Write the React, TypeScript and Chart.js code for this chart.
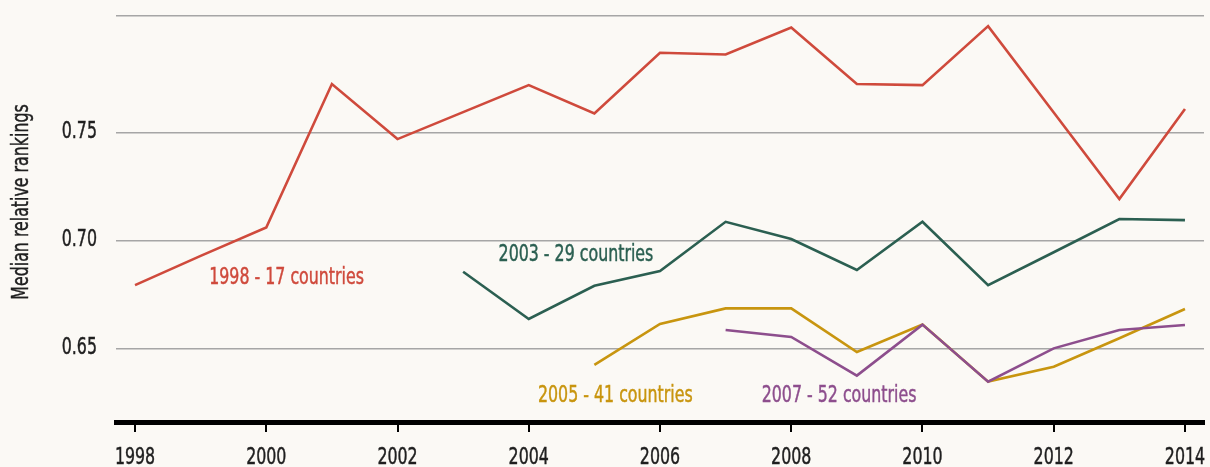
import React, { useEffect, useRef } from "react";
import { Chart, registerables } from "chart.js";

Chart.register(...registerables);

const years = [1998, 1999, 2000, 2001, 2002, 2003, 2004, 2005, 2006, 2007, 2008, 2009, 2010, 2011, 2012, 2013, 2014];

const red1998 = [0.6796, 0.6931, 0.7063, 0.7727, 0.7472, 0.7597, 0.7722, 0.7591, 0.7872, 0.7864, 0.7989, 0.7727, 0.7722, 0.7995, 0.7595, 0.7194, 0.7611];
const green2003 = [null, null, null, null, null, 0.6858, 0.6639, 0.6793, 0.6861, 0.7089, 0.7009, 0.6866, 0.7089, 0.6796, 0.6948, 0.7102, 0.7097];
const gold2005 = [null, null, null, null, null, null, null, 0.6427, 0.6616, 0.6688, 0.6688, 0.6486, 0.6613, 0.6349, 0.6418, 0.655, 0.6685];
const purple2007 = [null, null, null, null, null, null, null, null, null, 0.6588, 0.6556, 0.6377, 0.6613, 0.6349, 0.6503, 0.6588, 0.6611];

const seriesNames = ["1998 - 17 countries", "2003 - 29 countries", "2005 - 41 countries", "2007 - 52 countries"];
const seriesColors = ["#CF4A3C", "#2B5F51", "#C8950F", "#8D4E8D"];
const labelYears = [1999.13, 2003.54, 2004.14, 2007.55];
const labelValues = [0.6801, 0.6908, 0.6255, 0.6255];

const xTicks = [1998, 2000, 2002, 2004, 2006, 2008, 2010, 2012, 2014];
const xTickLabels = ["1998", "2000", "2002", "2004", "2006", "2008", "2010", "2012", "2014"];
const yTicks = [0.65, 0.7, 0.75];
const yTickLabels = ["0.65", "0.70", "0.75"];
const yMin = 0.6162;
const yMax = 0.8042;
const xMin = 1997.71;
const xMax = 2014.29;
const yTitle = "Median relative rankings";

const FONT = "'DejaVu Sans Condensed', 'Liberation Sans Narrow', sans-serif";
const FONT_SIZE = 23;
const SQUEEZE = 0.765;
const TEXT = "#1f1f1f";
const BG = "#FBF9F5";

function toPoints(vals: (number | null)[]) {
  const pts: { x: number; y: number }[] = [];
  vals.forEach((v, i) => {
    if (v !== null) pts.push({ x: years[i], y: v });
  });
  return pts;
}

function narrowText(
  ctx: CanvasRenderingContext2D,
  text: string,
  x: number,
  y: number,
  align: CanvasTextAlign,
  color: string,
  rotate = 0
) {
  ctx.save();
  ctx.translate(x, y);
  if (rotate) ctx.rotate(rotate);
  ctx.scale(SQUEEZE, 1);
  ctx.font = `${FONT_SIZE}px ${FONT}`;
  ctx.textAlign = align;
  ctx.textBaseline = "alphabetic";
  ctx.fillStyle = color;
  ctx.strokeStyle = color;
  ctx.lineWidth = 0.45;
  ctx.fillText(text, 0, 0);
  ctx.strokeText(text, 0, 0);
  ctx.restore();
}

export default function App() {
  const ref = useRef<HTMLCanvasElement | null>(null);

  useEffect(() => {
    document.body.style.margin = "0";
    document.body.style.background = BG;
    const canvas = ref.current;
    if (!canvas) return;

    const textPlugin = {
      id: "narrowText",
      afterDraw(chart: any) {
        const { ctx, scales, chartArea } = chart;
        const sx = scales.x;
        const sy = scales.y;
        seriesNames.forEach((name, i) => {
          narrowText(ctx, name, sx.getPixelForValue(labelYears[i]), sy.getPixelForValue(labelValues[i]), "left", seriesColors[i]);
        });
        xTicks.forEach((v, i) => {
          narrowText(ctx, xTickLabels[i], sx.getPixelForValue(v), chartArea.bottom + 42, "center", TEXT);
        });
        yTicks.forEach((v, i) => {
          narrowText(ctx, yTickLabels[i], chartArea.left - 19, sy.getPixelForValue(v) + 5, "right", TEXT);
        });
        narrowText(ctx, yTitle, 28, 202, "center", TEXT, -Math.PI / 2);
      },
    };

    const datasetsRaw = [red1998, green2003, gold2005, purple2007];
    const orders = [3, 2, 1, 0];

    const chart = new Chart(canvas, {
      type: "line",
      data: {
        datasets: datasetsRaw.map((vals, i) => ({
          label: seriesNames[i],
          data: toPoints(vals),
          borderColor: seriesColors[i],
          backgroundColor: seriesColors[i],
          borderWidth: 2.6,
          pointRadius: 0,
          tension: 0,
          borderJoinStyle: "miter" as const,
          fill: false,
          order: orders[i],
        })),
      },
      options: {
        animation: false,
        responsive: false,
        maintainAspectRatio: false,
        layout: { padding: { top: 16, right: 6, left: 0, bottom: 0 } },
        plugins: {
          legend: { display: false },
          tooltip: { enabled: false },
        },
        scales: {
          x: {
            type: "linear",
            min: xMin,
            max: xMax,
            afterBuildTicks: (scale: any) => {
              scale.ticks = xTicks.map((v) => ({ value: v }));
            },
            afterFit: (scale: any) => {
              scale.height = 45;
              scale.paddingLeft = 0;
              scale.paddingRight = 0;
            },
            border: { display: true, color: "#000", width: 5 },
            grid: {
              drawOnChartArea: false,
              drawTicks: true,
              tickLength: 10,
              tickWidth: 2,
              tickColor: "#000",
              color: "#000",
              lineWidth: 2,
            },
            ticks: { display: false, autoSkip: false, maxRotation: 0 },
          },
          y: {
            type: "linear",
            min: yMin,
            max: yMax,
            afterBuildTicks: (scale: any) => {
              scale.ticks = [...yTicks, yMax].map((v) => ({ value: v }));
            },
            afterFit: (scale: any) => {
              scale.width = 116;
              scale.paddingTop = 0;
              scale.paddingBottom = 0;
            },
            border: { display: false },
            grid: {
              drawTicks: false,
              color: "#A6A6A6",
              lineWidth: 1.5,
            },
            ticks: { display: false },
          },
        },
      },
      plugins: [textPlugin],
    } as any);

    return () => chart.destroy();
  }, []);

  return (
    <div style={{ width: 1210, height: 467, background: BG }}>
      <canvas ref={ref} width={1210} height={467} style={{ display: "block" }} />
    </div>
  );
}
